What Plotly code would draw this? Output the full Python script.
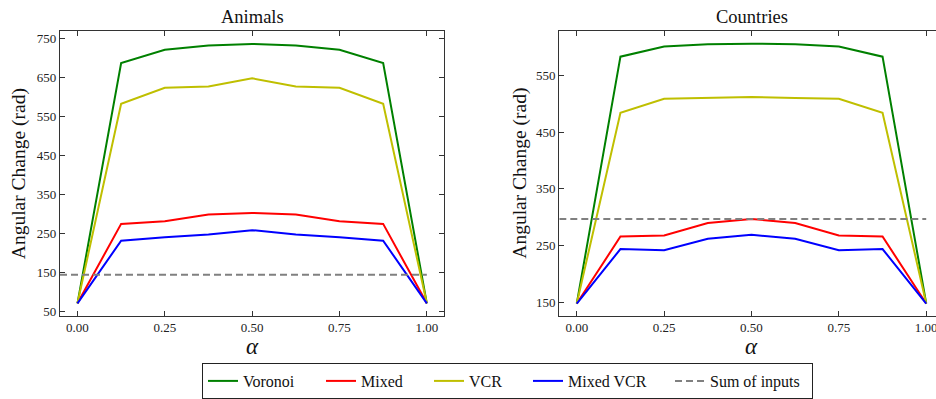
import plotly.graph_objects as go

# ---------------- data ----------------
alpha = [0.0, 0.125, 0.25, 0.375, 0.5, 0.625, 0.75, 0.875, 1.0]

animals_voronoi = [72, 686, 720, 731, 735, 731, 720, 686, 72]
animals_mixed = [72, 275, 282, 299, 303, 299, 282, 275, 72]
animals_vcr = [72, 582, 623, 626, 647, 626, 623, 582, 72]
animals_mixed_vcr = [72, 232, 241, 248, 259, 248, 241, 232, 72]
animals_sum_inputs = 145

countries_voronoi = [148, 583, 601, 605, 606, 605, 601, 583, 148]
countries_mixed = [148, 266, 268, 290, 297, 290, 268, 266, 148]
countries_vcr = [148, 484, 509, 510, 512, 510, 509, 484, 148]
countries_mixed_vcr = [148, 244, 242, 262, 269, 262, 242, 244, 148]
countries_sum_inputs = 297

x_ticks = [0.0, 0.25, 0.5, 0.75, 1.0]
animals_y_ticks = [50, 150, 250, 350, 450, 550, 650, 750]
countries_y_ticks = [150, 250, 350, 450, 550]

series_names = ["Voronoi", "Mixed", "VCR", "Mixed VCR", "Sum of inputs"]
series_colors = ["#008000", "#ff0000", "#bfbf00", "#0000ff", "#808080"]
legend_widths = [73, 63, 54, 97, 97]

panel_titles = ["Animals", "Countries"]
y_title = "Angular Change (rad)"
x_title = "α"

# ---------------- layout helpers ----------------
W, H = 936, 399
FONT = "Liberation Serif, Times New Roman, serif"
AX = "#333333"
X0 = -0.05

def px(x):
    return x / W

def py(y):
    return 1 - y / H

fig = go.Figure()

panels = [
    dict(xa="x", ya="y",
         series=[animals_voronoi, animals_mixed, animals_vcr, animals_mixed_vcr],
         sum_inputs=animals_sum_inputs, legend=True),
    dict(xa="x2", ya="y2",
         series=[countries_voronoi, countries_mixed, countries_vcr, countries_mixed_vcr],
         sum_inputs=countries_sum_inputs, legend=False),
]

for p in panels:
    for i, s in enumerate(p["series"]):
        fig.add_trace(go.Scatter(
            x=alpha, y=s, mode="lines", name=series_names[i],
            line=dict(color=series_colors[i], width=2),
            xaxis=p["xa"], yaxis=p["ya"], showlegend=p["legend"],
            legendwidth=legend_widths[i], legendrank=i + 1,
        ))
    fig.add_trace(go.Scatter(
        x=[X0, alpha[-1]], y=[p["sum_inputs"], p["sum_inputs"]], mode="lines",
        name=series_names[4],
        line=dict(color=series_colors[4], width=2, dash="7px,4px"),
        xaxis=p["xa"], yaxis=p["ya"], showlegend=p["legend"],
        legendwidth=legend_widths[4], legendrank=5,
    ))

common_axis = dict(
    showgrid=False, zeroline=False, showline=True, linecolor=AX, linewidth=1.2,
    ticks="inside", ticklen=5, tickwidth=1.2, tickcolor=AX,
    tickfont=dict(family=FONT, size=13, color="#222222"),
    automargin=False, ticklabeloverflow="allow",
)

fig.update_layout(
    width=W, height=H,
    margin=dict(l=0, r=0, t=0, b=0),
    paper_bgcolor="white", plot_bgcolor="white",
    font=dict(family=FONT, color="#111111"),
    xaxis=dict(common_axis, domain=[px(60), px(444.3)], range=[X0, 1.05],
               tickvals=x_ticks, tickformat=".2f", mirror="ticks", anchor="y"),
    yaxis=dict(common_axis, domain=[py(318), py(31)], range=[40.6, 768.5],
               tickvals=animals_y_ticks, mirror="ticks", anchor="x"),
    xaxis2=dict(common_axis, domain=[px(559.3), 1.0], range=[X0, 1.028],
                tickvals=x_ticks, tickformat=".2f", mirror="ticks", anchor="y2"),
    yaxis2=dict(common_axis, domain=[py(318), py(31)], range=[126.7, 628.7],
                tickvals=countries_y_ticks, mirror=False, anchor="x2"),
    legend=dict(
        orientation="h", x=px(202), y=py(366), xanchor="left", yanchor="top",
        bordercolor="#222222", borderwidth=1, bgcolor="white",
        font=dict(family=FONT, size=16, color="#111111"),
        traceorder="normal",
    ),
    showlegend=True,
)

annotations = []
for cx, title in [(252.2, panel_titles[0]), (751.7, panel_titles[1])]:
    annotations.append(dict(x=px(cx), y=py(17), xref="paper", yref="paper",
                            text=title, showarrow=False, xanchor="center", yanchor="middle",
                            font=dict(family=FONT, size=18.5, color="#111111")))
    annotations.append(dict(x=px(cx), y=py(349), xref="paper", yref="paper",
                            text="<i>" + x_title + "</i>", showarrow=False,
                            xanchor="center", yanchor="middle",
                            font=dict(family=FONT, size=23, color="#111111")))
for cx in [18.5, 520]:
    annotations.append(dict(x=px(cx), y=py(175), xref="paper", yref="paper",
                            text=y_title, showarrow=False, textangle=-90,
                            xanchor="center", yanchor="middle",
                            font=dict(family=FONT, size=19.5, color="#111111")))
fig.update_layout(annotations=annotations)

fig.write_html("out.html")
